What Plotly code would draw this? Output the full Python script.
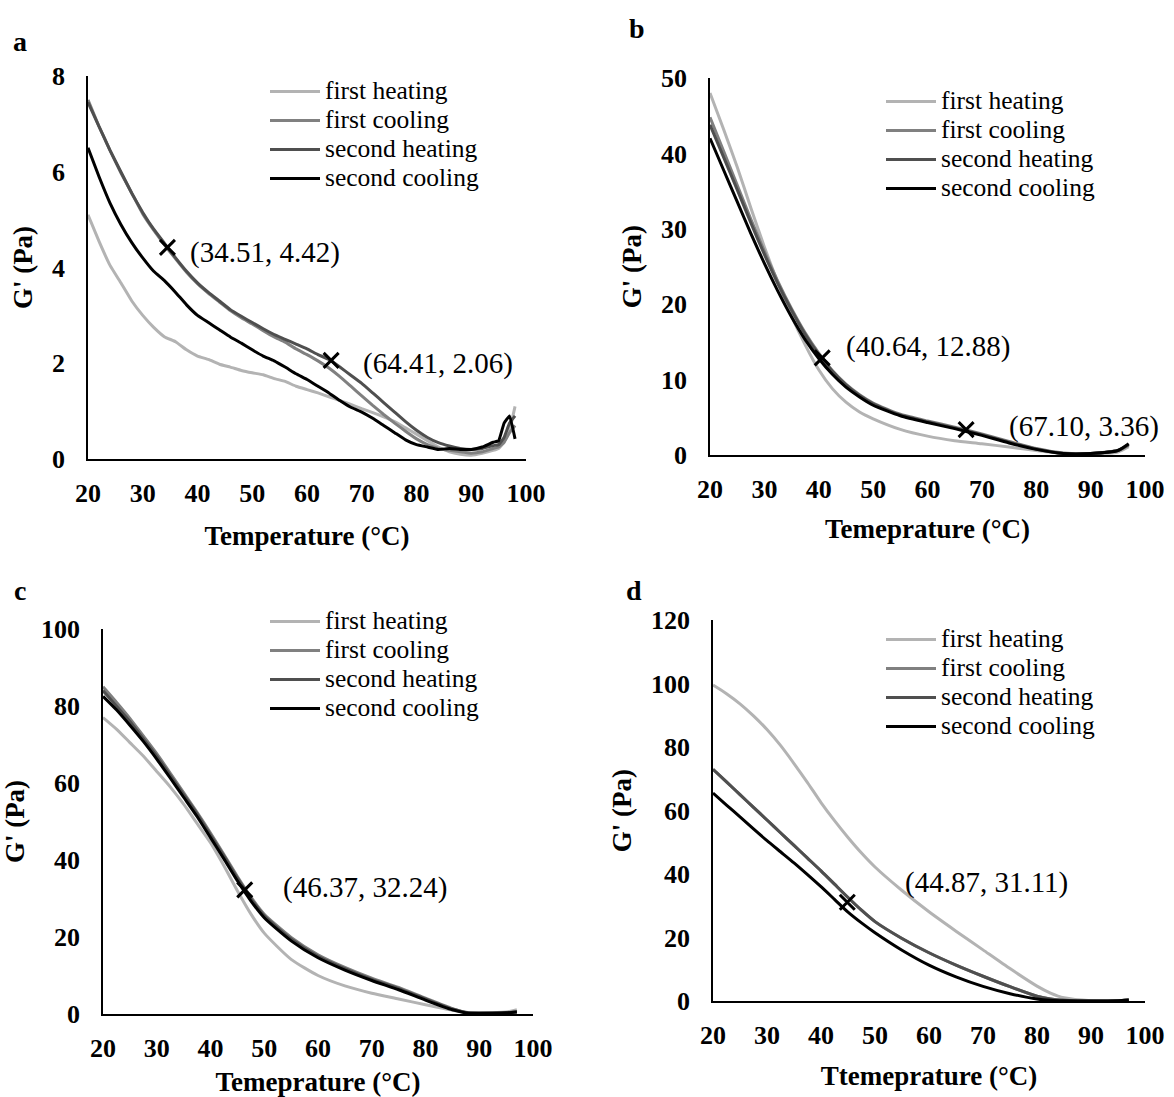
import plotly.graph_objects as go

SERIES = ["first heating", "first cooling", "second heating", "second cooling"]
COLORS = ["#b3b3b3", "#808080", "#4f4f4f", "#000000"]

# ---------------- panel a ----------------
T_a = [20, 22, 24, 26, 28, 30, 32, 34, 36, 38, 40, 42, 44, 46, 48, 50, 52, 54, 56, 58,
       60, 62, 64, 66, 68, 70, 72, 74, 76, 78, 80, 82, 84, 86, 88, 90, 92, 94, 95, 96, 97, 98]
a_first_heating = [5.10, 4.55, 4.05, 3.68, 3.30, 3.00, 2.75, 2.55, 2.45, 2.28, 2.15, 2.08, 1.98, 1.92,
                   1.85, 1.80, 1.76, 1.68, 1.62, 1.52, 1.45, 1.38, 1.30, 1.22, 1.14, 1.05, 0.97, 0.88,
                   0.78, 0.65, 0.52, 0.38, 0.25, 0.15, 0.10, 0.08, 0.12, 0.18, 0.22, 0.35, 0.60, 1.10]
a_first_cooling = [7.50, 6.95, 6.45, 5.98, 5.55, 5.12, 4.78, 4.47, 4.18, 3.90, 3.66, 3.46, 3.28, 3.10,
                   2.95, 2.82, 2.68, 2.55, 2.44, 2.30, 2.18, 2.05, 1.90, 1.72, 1.52, 1.32, 1.12, 0.93,
                   0.75, 0.58, 0.42, 0.30, 0.22, 0.18, 0.15, 0.12, 0.15, 0.22, 0.25, 0.35, 0.55, 0.70]
a_second_heating = [7.45, 6.95, 6.45, 6.00, 5.55, 5.15, 4.80, 4.50, 4.20, 3.92, 3.68, 3.48, 3.30, 3.12,
                    2.98, 2.85, 2.72, 2.60, 2.50, 2.40, 2.30, 2.18, 2.08, 1.92, 1.75, 1.58, 1.38, 1.18,
                    0.98, 0.78, 0.60, 0.45, 0.34, 0.27, 0.22, 0.20, 0.22, 0.28, 0.30, 0.45, 0.75, 0.90]
a_second_cooling = [6.50, 5.90, 5.35, 4.90, 4.52, 4.20, 3.92, 3.72, 3.48, 3.22, 3.00, 2.85, 2.70, 2.55,
                    2.42, 2.28, 2.15, 2.05, 1.92, 1.78, 1.66, 1.52, 1.38, 1.22, 1.08, 0.98, 0.85, 0.70,
                    0.55, 0.40, 0.30, 0.25, 0.20, 0.22, 0.20, 0.20, 0.25, 0.35, 0.38, 0.75, 0.90, 0.42]
a_marks_x = [34.51, 64.41]
a_marks_y = [4.42, 2.06]
a_marks_text = ["(34.51, 4.42)", "(64.41, 2.06)"]

# ---------------- panel b ----------------
T_b = [20, 22.5, 25, 27.5, 30, 32.5, 35, 37.5, 40, 42.5, 45, 47.5, 50, 55, 60, 65, 70, 75, 80, 85, 90, 95, 97]
b_first_heating = [48.0, 43.2, 38.2, 32.8, 27.6, 22.8, 18.4, 14.6, 11.3, 8.8, 7.0, 5.7, 4.8, 3.4, 2.5,
                   1.9, 1.5, 1.05, 0.6, 0.2, 0.15, 0.4, 1.1]
b_first_cooling = [44.8, 40.3, 35.8, 31.3, 27.0, 23.0, 19.4, 16.2, 13.5, 11.2, 9.4, 8.0, 6.9, 5.4, 4.5,
                   3.7, 2.8, 1.8, 0.85, 0.25, 0.2, 0.6, 1.3]
b_second_heating = [43.8, 39.5, 35.2, 30.8, 26.6, 22.7, 19.2, 16.0, 13.3, 11.1, 9.3, 7.9, 6.8, 5.3, 4.4,
                    3.6, 2.7, 1.7, 0.8, 0.2, 0.2, 0.6, 1.4]
b_second_cooling = [42.0, 37.8, 33.6, 29.4, 25.4, 21.7, 18.3, 15.3, 12.8, 10.7, 9.0, 7.7, 6.6, 5.2, 4.3,
                    3.5, 2.6, 1.6, 0.75, 0.2, 0.2, 0.6, 1.5]
b_marks_x = [40.64, 67.10]
b_marks_y = [12.88, 3.36]
b_marks_text = ["(40.64, 12.88)", "(67.10, 3.36)"]

# ---------------- panel c ----------------
T_c = [20, 22.5, 25, 27.5, 30, 32.5, 35, 37.5, 40, 42.5, 45, 47.5, 50, 55, 60, 65, 70, 75, 80, 85, 88, 90, 95, 97]
c_first_heating = [77.0, 74.0, 70.5, 67.0, 63.0, 59.0, 54.5, 49.5, 44.5, 38.5, 32.0, 26.0, 21.0, 14.2,
                   10.0, 7.3, 5.4, 3.9, 2.4, 1.0, 0.4, 0.3, 0.5, 1.1]
c_first_cooling = [85.0, 81.0, 76.8, 72.2, 67.6, 62.6, 57.5, 52.4, 47.0, 41.4, 35.7, 30.4, 25.9, 19.9,
                   15.4, 12.1, 9.3, 6.9, 4.1, 1.4, 0.3, 0.2, 0.3, 0.6]
c_second_heating = [84.0, 80.0, 76.0, 71.5, 67.0, 62.0, 57.0, 52.0, 46.5, 41.0, 35.3, 30.0, 25.5, 19.5,
                    15.0, 11.8, 9.0, 6.6, 3.9, 1.3, 0.3, 0.2, 0.3, 0.6]
c_second_cooling = [82.5, 79.0, 75.0, 70.8, 66.2, 61.3, 56.3, 51.3, 45.8, 40.3, 34.6, 29.4, 25.0, 19.0,
                    14.6, 11.4, 8.7, 6.3, 3.6, 1.1, 0.2, 0.2, 0.3, 0.5]
c_marks_x = [46.37]
c_marks_y = [32.24]
c_marks_text = ["(46.37, 32.24)"]

# ---------------- panel d ----------------
T_d = [20, 22.5, 25, 27.5, 30, 32.5, 35, 37.5, 40, 42.5, 45, 47.5, 50, 55, 60, 65, 70, 75, 80, 82.5, 85, 90, 95, 97]
d_first_heating = [99.5, 96.8, 93.6, 89.8, 85.5, 80.5, 74.8, 68.8, 62.5, 56.8, 51.5, 46.6, 42.2, 34.8,
                   28.1, 22.0, 16.1, 10.2, 4.7, 2.5, 1.0, 0.1, 0.1, 0.4]
d_first_cooling = [73.0, 69.0, 65.0, 61.0, 57.0, 53.0, 49.0, 45.0, 41.0, 36.8, 32.6, 28.6, 25.0, 19.7,
                   15.2, 11.3, 7.8, 4.5, 1.5, 0.6, 0.2, 0.0, 0.1, 0.3]
d_second_heating = [73.0, 69.0, 65.0, 61.0, 57.0, 53.0, 49.0, 45.0, 41.0, 36.8, 32.6, 28.6, 25.0, 19.7,
                    15.2, 11.3, 7.8, 4.5, 1.5, 0.6, 0.2, 0.0, 0.1, 0.3]
d_second_cooling = [65.5, 61.7, 58.0, 54.2, 50.5, 47.0, 43.5, 39.8, 36.0, 32.0, 28.0, 24.6, 21.5, 16.0,
                    11.3, 7.6, 4.6, 2.3, 0.6, 0.2, 0.05, 0.0, 0.1, 0.3]
d_marks_x = [44.87]
d_marks_y = [31.11]
d_marks_text = ["(44.87, 31.11)"]

X_TICKS = [20, 30, 40, 50, 60, 70, 80, 90, 100]

SERIF = "Liberation Serif, Times New Roman, serif"
W, H = 1174, 1097

panels = [
    dict(key="a", T=T_a, ys=[a_first_heating, a_first_cooling, a_second_heating, a_second_cooling],
         mx=a_marks_x, my=a_marks_y, mt=a_marks_text, ymax=8, dy=2, tstand=19,
         xtitle="Temperature (°C)", box=(88, 526, 76, 459), leg=(265, 72),
         shifts=[(21, -5), (30, -3)], label=(20, 42)),
    dict(key="b", T=T_b, ys=[b_first_heating, b_first_cooling, b_second_heating, b_second_cooling],
         mx=b_marks_x, my=b_marks_y, mt=b_marks_text, ymax=50, dy=10, tstand=16,
         xtitle="Temeprature (°C)", box=(710, 1145, 78, 455), leg=(881, 82),
         shifts=[(22, 11), (41, 3)], label=(637, 28)),
    dict(key="c", T=T_c, ys=[c_first_heating, c_first_cooling, c_second_heating, c_second_cooling],
         mx=c_marks_x, my=c_marks_y, mt=c_marks_text, ymax=100, dy=20, tstand=16,
         xtitle="Temeprature (°C)", box=(103, 533, 629, 1014), leg=(265, 602),
         shifts=[(36, 2)], label=(20, 590)),
    dict(key="d", T=T_d, ys=[d_first_heating, d_first_cooling, d_second_heating, d_second_cooling],
         mx=d_marks_x, my=d_marks_y, mt=d_marks_text, ymax=120, dy=20, tstand=17,
         xtitle="Ttemeprature (°C)", box=(713, 1145, 620, 1001), leg=(881, 620),
         shifts=[(56, 20)], label=(634, 590)),
]

fig = go.Figure()
layout = dict(width=W, height=H, margin=dict(l=0, r=0, t=0, b=0),
              paper_bgcolor="white", plot_bgcolor="white", showlegend=True,
              font=dict(family=SERIF, color="black"))
annotations = []

for i, p in enumerate(panels):
    n = "" if i == 0 else str(i + 1)
    xa, ya = "x" + n, "y" + n
    legname = "legend" + n
    x0, x1, y0, y1 = p["box"]
    for s, (name, col, yv) in enumerate(zip(SERIES, COLORS, p["ys"])):
        fig.add_trace(go.Scatter(
            x=p["T"], y=yv, mode="lines", xaxis=xa, yaxis=ya,
            name="<span style='font-size:25.5px'>" + name + "</span>",
            line=dict(color=col, width=3, shape="spline", smoothing=0.6 if p["key"] != "a" else 0.3),
            legend=legname, hoverinfo="skip"))
    fig.add_trace(go.Scatter(
        x=p["mx"], y=p["my"], mode="markers", xaxis=xa, yaxis=ya, showlegend=False,
        marker=dict(symbol="x-thin", size=15, line=dict(width=3, color="black"), color="black"),
        hoverinfo="skip"))
    for (mx, my, mt, (sx, sy)) in zip(p["mx"], p["my"], p["mt"], p["shifts"]):
        annotations.append(dict(x=mx, y=my, xref=xa, yref=ya, text=mt, showarrow=False,
                                xanchor="left", yanchor="middle", xshift=sx, yshift=sy,
                                font=dict(family=SERIF, size=29, color="black")))
    lx, ly = p["label"]
    annotations.append(dict(x=lx / W, y=1 - ly / H, xref="paper", yref="paper", text="<b>" + p["key"] + "</b>",
                            showarrow=False, xanchor="center", yanchor="middle",
                            font=dict(family=SERIF, size=28, color="black")))
    axis_common = dict(showline=True, linecolor="black", linewidth=1.5, showgrid=False,
                       zeroline=False, ticks="", automargin=False,
                       tickfont=dict(family=SERIF, size=26, color="black", weight="bold"))
    layout["xaxis" + n] = dict(domain=[x0 / W, x1 / W], range=[20, 100], tickvals=X_TICKS,
                               anchor=ya, ticklabelstandoff=10,
                               title=dict(text=p["xtitle"], standoff=p["tstand"],
                                          font=dict(family=SERIF, size=27, color="black", weight="bold")),
                               **axis_common)
    layout["yaxis" + n] = dict(domain=[1 - y1 / H, 1 - y0 / H], range=[0, p["ymax"]], dtick=p["dy"],
                               anchor=xa, ticklabelstandoff=16,
                               title=dict(text="G' (Pa)", standoff=12,
                                          font=dict(family=SERIF, size=27, color="black", weight="bold")),
                               **axis_common)
    lgx, lgy = p["leg"]
    layout[legname] = dict(x=lgx / W, y=1 - lgy / H, xanchor="left", yanchor="top",
                           bgcolor="rgba(0,0,0,0)", borderwidth=0, tracegroupgap=0,
                           itemwidth=50,
                           font=dict(family=SERIF, size=20, color="black"))

layout["annotations"] = annotations
fig.update_layout(**layout)
fig.write_html("out.html", config={"displayModeBar": False},
               post_script="document.body.style.margin='0px';document.body.style.overflow='hidden';")
